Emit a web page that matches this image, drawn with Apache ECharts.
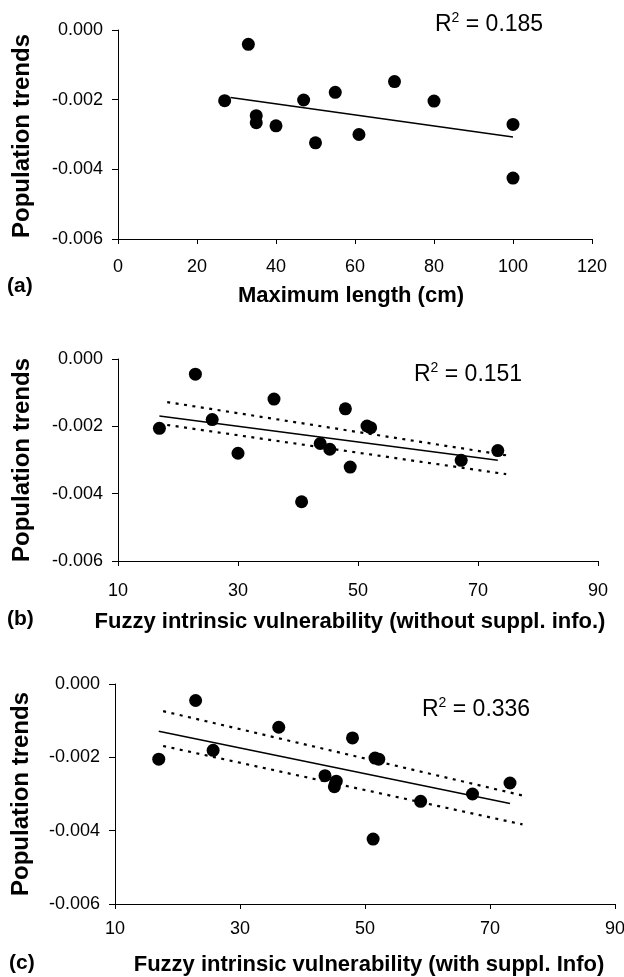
<!DOCTYPE html>
<html>
<head>
<meta charset="utf-8">
<script src="https://cdn.jsdelivr.net/npm/echarts@6/dist/echarts.min.js"></script>
<style>html,body{margin:0;padding:0;background:#fff;}#c{width:624px;height:977px;}</style>
</head>
<body>
<div id="c"></div>
<script>
// Panel (a): Maximum length
const aX = [27, 33, 35, 35, 40, 47, 50, 55, 61, 70, 80, 100, 100];
const aY = [-0.00203, -0.00041, -0.00246, -0.00266, -0.00275, -0.00201, -0.00324, -0.00179, -0.00300, -0.00148, -0.00204, -0.00271, -0.00425];
const aFitX = [28.5, 100];
const aFitY = [-0.00194, -0.00307];
const aTicksX = [0, 120, 20];

// Panel (b): Fuzzy intrinsic vulnerability (without suppl. info.)
const bX = [16.9, 22.9, 25.7, 30.0, 36.0, 40.6, 43.7, 45.3, 47.9, 48.7, 51.5, 52.1, 67.2, 73.3];
const bY = [-0.00206, -0.00045, -0.00180, -0.00280, -0.00119, -0.00424, -0.00251, -0.00268, -0.00148, -0.00321, -0.00199, -0.00204, -0.00301, -0.00272];
const bFitX = [16.9, 73.3];
const bFitY = [-0.00169, -0.00301];
const bUpX = [18.2, 74.7];
const bUpY = [-0.00128, -0.00286];
const bLoX = [18.2, 74.7];
const bLoY = [-0.00196, -0.00342];

// Panel (c): Fuzzy intrinsic vulnerability (with suppl. Info)
const cX = [17.0, 22.9, 25.7, 36.2, 43.6, 45.4, 45.1, 48.0, 51.6, 52.2, 51.3, 58.9, 67.2, 73.2];
const cY = [-0.00205, -0.00045, -0.00181, -0.00118, -0.00250, -0.00265, -0.00280, -0.00147, -0.00202, -0.00205, -0.00423, -0.00320, -0.00300, -0.00270];
const cFitX = [17.0, 73.2];
const cFitY = [-0.00129, -0.00326];
const cUpX = [17.7, 75.2];
const cUpY = [-0.00074, -0.00304];
const cLoX = [17.7, 75.2];
const cLoY = [-0.00169, -0.00383];

const yTicks = [-0.006, 0, 0.002];
const fuzzyTicks = [10, 90, 20];

const panelLabels = ['(a)', '(b)', '(c)'];
const xTitles = ['Maximum length (cm)', 'Fuzzy intrinsic vulnerability (without suppl. info.)', 'Fuzzy intrinsic vulnerability (with suppl. Info)'];
const yTitle = 'Population trends';
const r2Values = ['0.185', '0.151', '0.336'];

const FONT = '"Liberation Sans", Arial, Helvetica, sans-serif';
const zip = (xs, ys) => xs.map((x, i) => [x, ys[i]]);

const grids = [
  {left: 118, top: 30, width: 474, height: 209},
  {left: 118, top: 359, width: 480, height: 202},
  {left: 115, top: 684, width: 500, height: 220}
];
const xMargins = [19, 21, 16];

function xAxis(i, t) {
  return {
    gridIndex: i, type: 'value', min: t[0], max: t[1], interval: t[2],
    axisLine: {show: true, onZero: false, lineStyle: {color: '#000', width: 1}},
    axisTick: {show: true, inside: false, length: 5, lineStyle: {color: '#000'}},
    splitLine: {show: false},
    axisLabel: {color: '#000', fontSize: 18, fontFamily: FONT, margin: xMargins[i]}
  };
}
function yAxis(i) {
  return {
    gridIndex: i, type: 'value', min: yTicks[0], max: yTicks[1], interval: yTicks[2],
    axisLine: {show: true, onZero: false, lineStyle: {color: '#000', width: 1}},
    axisTick: {show: true, inside: false, length: 6, lineStyle: {color: '#000'}},
    splitLine: {show: false},
    axisLabel: {color: '#000', fontSize: 18, fontFamily: FONT, margin: 15,
      formatter: v => (Math.abs(v) < 1e-12 ? 0 : v).toFixed(3)}
  };
}
function scatter(i, xs, ys) {
  return {type: 'scatter', xAxisIndex: i, yAxisIndex: i, data: zip(xs, ys),
    symbolSize: 13, itemStyle: {color: '#000', opacity: 1}, z: 5, silent: true};
}
function line(i, xs, ys, dotted) {
  return {type: 'line', xAxisIndex: i, yAxisIndex: i, data: zip(xs, ys),
    showSymbol: false, symbol: 'none', silent: true, z: 3,
    lineStyle: dotted ? {color: '#000', width: 2.2, type: [3, 5.5]} : {color: '#000', width: 1.5}};
}

const r2Pos = [[435, 25], [414, 375], [422, 710]];
const panelLabelPos = [[7, 288], [7, 621], [9, 965]];
const xTitlePos = [[351, 296], [350, 622], [369, 965]];
const yTitlePos = [[22, 136], [22, 460], [21, 794]];

const graphic = [];
for (let i = 0; i < 3; i++) {
  graphic.push({type: 'text', left: panelLabelPos[i][0], top: panelLabelPos[i][1] - 12,
    style: {text: panelLabels[i], font: 'bold 21px ' + FONT, fill: '#000'}});
  graphic.push({type: 'text', x: xTitlePos[i][0], y: xTitlePos[i][1],
    style: {text: xTitles[i], font: 'bold 22px ' + FONT, fill: '#000', align: 'center', verticalAlign: 'middle'}});
  graphic.push({type: 'text', x: yTitlePos[i][0], y: yTitlePos[i][1], rotation: Math.PI / 2,
    style: {text: yTitle, font: 'bold 24px ' + FONT, fill: '#000', align: 'center', verticalAlign: 'middle'}});
  graphic.push({type: 'text', x: r2Pos[i][0], y: r2Pos[i][1],
    style: {text: '{r|R}{s|2}{r| = ' + r2Values[i] + '}', align: 'left', verticalAlign: 'middle', fill: '#000',
      rich: {
        r: {fontSize: 23, fontFamily: FONT, fill: '#000', lineHeight: 28},
        s: {fontSize: 14, fontFamily: FONT, fill: '#000', lineHeight: 28, verticalAlign: 'top'}
      }}});
}

const option = {
  backgroundColor: '#fff',
  animation: false,
  grid: grids.map(g => Object.assign({containLabel: false, outerBoundsMode: 'none'}, g)),
  xAxis: [xAxis(0, aTicksX), xAxis(1, fuzzyTicks), xAxis(2, fuzzyTicks)],
  yAxis: [yAxis(0), yAxis(1), yAxis(2)],
  series: [
    line(0, aFitX, aFitY, false),
    scatter(0, aX, aY),
    line(1, bFitX, bFitY, false),
    line(1, bUpX, bUpY, true),
    line(1, bLoX, bLoY, true),
    scatter(1, bX, bY),
    line(2, cFitX, cFitY, false),
    line(2, cUpX, cUpY, true),
    line(2, cLoX, cLoY, true),
    scatter(2, cX, cY)
  ],
  graphic: graphic
};
const chart = echarts.init(document.getElementById('c'), null, {renderer: 'canvas'});
chart.setOption(option);
</script>
</body>
</html>
